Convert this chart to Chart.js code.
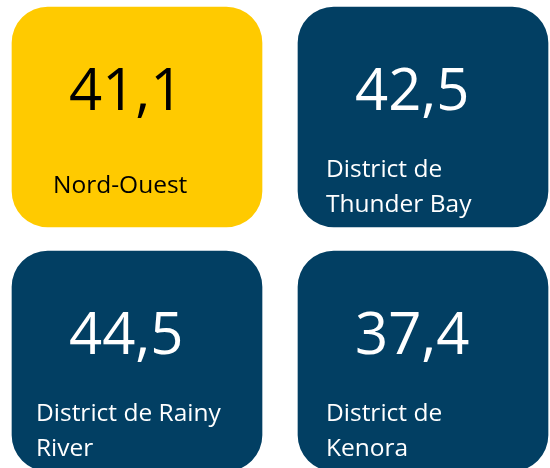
<!DOCTYPE html>
<html>
<head>
<meta charset="utf-8">
<script src="https://cdn.jsdelivr.net/npm/chart.js@4"></script>
<style>
html,body{margin:0;padding:0;background:#fff;}
#wrap{width:550px;height:468px;position:relative;}
</style>
</head>
<body>
<div id="wrap"><canvas id="c" width="550" height="468"></canvas></div>
<script>
// ---- data ----
const regions = ['Nord-Ouest', 'District de Thunder Bay', 'District de Rainy River', 'District de Kenora'];
const labelLines = [['Nord-Ouest'], ['District de', 'Thunder Bay'], ['District de Rainy', 'River'], ['District de', 'Kenora']];
const values = [41.1, 42.5, 44.5, 37.4];

// ---- layout / style (not data) ----
const YELLOW = '#FFCA00', NAVY = '#023F63';
const colCenters = [137, 423];
const rowSpans = [[7, 227], [251, 471]];
const tileWidth = 250;

const points = values.map((v, i) => ({
  x: colCenters[i % 2],
  y: rowSpans[Math.floor(i / 2)],
  v: v
}));

const tileText = {
  id: 'tileText',
  afterDatasetsDraw(chart) {
    const ctx = chart.ctx;
    const meta = chart.getDatasetMeta(0);
    meta.data.forEach((bar, i) => {
      const left = bar.x - bar.width / 2;
      const top = Math.min(bar.y, bar.base);
      const dark = i !== 0;
      ctx.save();
      ctx.fillStyle = dark ? '#ffffff' : '#000000';
      ctx.textAlign = 'left';
      ctx.textBaseline = 'alphabetic';
      ctx.font = '58px "Open Sans"';
      ctx.fillText(values[i].toFixed(1).replace('.', ','), left + 57, top + 103);
      ctx.font = '24.5px "Open Sans"';
      const lines = labelLines[i];
      if (lines.length === 1) {
        ctx.fillText(lines[0], left + 41, top + 186);
      } else {
        const indent = (i === 2) ? 24 : 28;
        lines.forEach((ln, k) => ctx.fillText(ln, left + indent, top + 170 + k * 35));
      }
      ctx.restore();
    });
  }
};

new Chart(document.getElementById('c'), {
  type: 'bar',
  data: {
    datasets: [{
      label: 'Valeur',
      data: points,
      backgroundColor: values.map((v, i) => i === 0 ? YELLOW : NAVY),
      borderRadius: 36,
      borderSkipped: false,
      borderWidth: 0,
      barThickness: tileWidth
    }]
  },
  options: {
    responsive: false,
    animation: false,
    events: [],
    layout: { padding: 0 },
    plugins: { legend: { display: false }, tooltip: { enabled: false } },
    scales: {
      x: { type: 'linear', display: false, min: 0, max: 550, offset: false },
      y: { type: 'linear', display: false, min: 0, max: 468, reverse: true }
    }
  },
  plugins: [tileText]
});
</script>
</body>
</html>
